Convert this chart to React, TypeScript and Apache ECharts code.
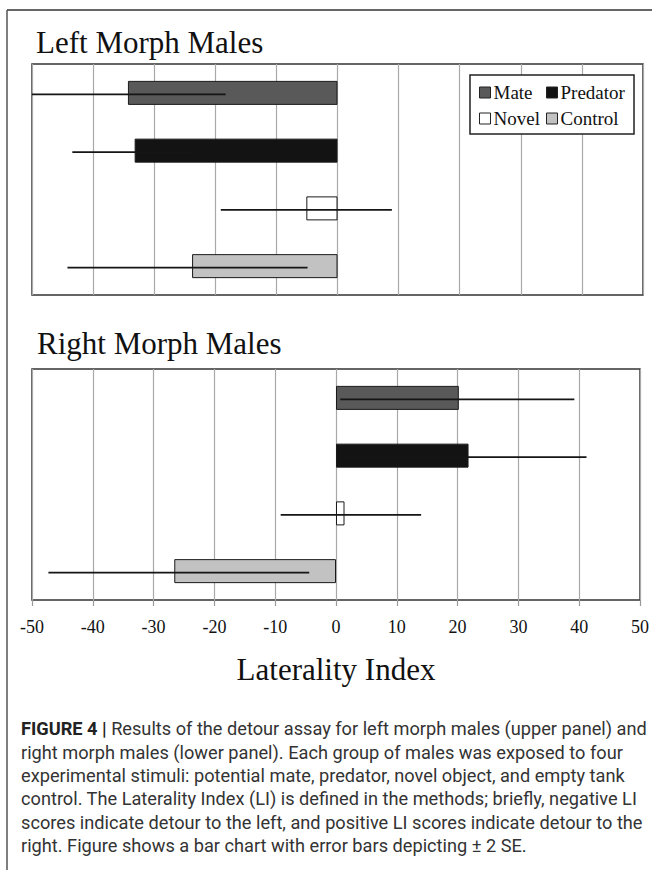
import React, { useEffect, useRef } from "react";
import * as echarts from "echarts";

const categories = ["Mate", "Predator", "Novel", "Control"];
const colors = ["#595959", "#131313", "#ffffff", "#c2c2c2"];

const leftMeans = [-34.3, -33.2, -5.1, -23.8];
const leftLower = [-50, -43.4, -19.1, -44.2];
const leftUpper = [-18.3, -23.8, 8.9, -4.9];

const rightMeans = [20.2, 21.8, 1.4, -26.6];
const rightLower = [0.7, 0.9, -9.1, -47.3];
const rightUpper = [39.2, 41.2, 14.0, -4.4];

const xMin = -50;
const xMax = 50;
const xInterval = 10;

const panelTitles = ["Left Morph Males", "Right Morph Males"];
const axisTitle = "Laterality Index";

const captionLines = [
  "{b|FIGURE 4 |} Results of the detour assay for left morph males (upper panel) and",
  "right morph males (lower panel). Each group of males was exposed to four",
  "experimental stimuli: potential mate, predator, novel object, and empty tank",
  "control. The Laterality Index (LI) is defined in the methods; briefly, negative LI",
  "scores indicate detour to the left, and positive LI scores indicate detour to the",
  "right. Figure shows a bar chart with error bars depicting \u00b1 2 SE.",
];

const SERIF = "Liberation Serif";
const SANS = "Roboto, 'Liberation Sans', Arial, sans-serif";

export default function App() {
  const ref = useRef<HTMLDivElement>(null);

  useEffect(() => {
    if (!ref.current) return;
    const chart = echarts.init(ref.current, undefined, { renderer: "svg" });

    const panels = [
      { means: leftMeans, lower: leftLower, upper: leftUpper },
      { means: rightMeans, lower: rightLower, upper: rightUpper },
    ];

    const series: any[] = [];
    panels.forEach((p, pi) => {
      categories.forEach((name, ci) => {
        series.push({
          type: "bar",
          name,
          xAxisIndex: pi,
          yAxisIndex: pi,
          barWidth: 24,
          barGap: "-100%",
          z: 2,
          itemStyle: { color: colors[ci], borderColor: "#1a1a1a", borderWidth: 1 },
          data: categories.map((_, j) => (j === ci ? p.means[j] : "-")),
        });
      });
      series.push({
        type: "custom",
        name: "err" + pi,
        xAxisIndex: pi,
        yAxisIndex: pi,
        z: 5,
        encode: { x: [0, 1], y: 2 },
        data: categories.map((_, j) => [p.lower[j], p.upper[j], j]),
        renderItem: (params: any, api: any) => {
          const a = api.coord([api.value(0), api.value(2)]);
          const b = api.coord([api.value(1), api.value(2)]);
          return {
            type: "line",
            shape: { x1: a[0], y1: a[1] + 1.5, x2: b[0], y2: b[1] + 1.5 },
            style: { stroke: "#151515", lineWidth: 1.8 },
          };
        },
      });
    });

    const yAxisBase = {
      type: "category",
      data: categories,
      inverse: true,
      axisLine: { show: false },
      axisTick: { show: false },
      axisLabel: { show: false },
      splitLine: { show: false },
    };

    const legendCommon = {
      orient: "vertical",
      top: 83,
      padding: 0,
      itemGap: 7,
      itemWidth: 11,
      itemHeight: 11,
      icon: "rect",
      z: 10,
      selectedMode: false,
      itemStyle: { borderColor: "#222", borderWidth: 1 },
      textStyle: { fontFamily: SERIF, fontSize: 19, color: "#111", padding: [0, 0, 0, -2] },
    };

    const graphics: any[] = [
      { type: "line", shape: { x1: 7, y1: 10, x2: 652, y2: 10 }, style: { stroke: "#333", lineWidth: 1.5 } },
      { type: "line", shape: { x1: 7, y1: 10, x2: 7, y2: 870 }, style: { stroke: "#555", lineWidth: 1.5 } },
      {
        type: "text",
        x: 36,
        y: 42,
        style: { text: panelTitles[0], font: `31px '${SERIF}'`, fill: "#111", textVerticalAlign: "middle" },
      },
      {
        type: "text",
        x: 37,
        y: 343,
        style: { text: panelTitles[1], font: `31px '${SERIF}'`, fill: "#111", textVerticalAlign: "middle" },
      },
      {
        type: "rect",
        z: 5,
        shape: { x: 470, y: 75, width: 164, height: 59 },
        style: { fill: "#fff", stroke: "#222", lineWidth: 1.5 },
      },
    ];
    const captionMid = [728.7, 752, 775.4, 798.7, 822, 845.4];
    captionLines.forEach((line, i) => {
      graphics.push({
        type: "text",
        x: 21,
        y: captionMid[i],
        style: {
          text: line,
          fontFamily: SANS,
          fontSize: 18.2,
          fill: "#333",
          textVerticalAlign: "middle",
          rich: {
            b: { fontFamily: SANS, fontSize: 18.2, fontWeight: "bold", fill: "#222" },
          },
        },
      });
    });

    chart.setOption({
      animation: false,
      backgroundColor: "#fff",
      textStyle: { fontFamily: SERIF },
      grid: [
        { left: 32, right: 9, top: 64, height: 231, show: true, borderColor: "#333", borderWidth: 1.5, backgroundColor: "transparent" },
        { left: 32, right: 9, top: 369, height: 231, show: true, borderColor: "#333", borderWidth: 1.5, backgroundColor: "transparent" },
      ],
      xAxis: [
        {
          type: "value",
          gridIndex: 0,
          min: xMin,
          max: xMax,
          interval: xInterval,
          axisLine: { show: false },
          axisTick: { show: false },
          axisLabel: { show: false },
          splitLine: { show: true, lineStyle: { color: "#a8a8a8", width: 1.2 } },
        },
        {
          type: "value",
          gridIndex: 1,
          min: xMin,
          max: xMax,
          interval: xInterval,
          axisLine: { show: false },
          splitLine: { show: true, lineStyle: { color: "#a8a8a8", width: 1.2 } },
          axisTick: { show: true, inside: false, length: 6, lineStyle: { color: "#999", width: 1.2 } },
          axisLabel: {
            show: true,
            margin: 18,
            fontFamily: SERIF,
            fontSize: 18,
            color: "#111",
          },
          name: axisTitle,
          nameLocation: "middle",
          nameGap: 54,
          nameTextStyle: { fontFamily: SERIF, fontSize: 31, color: "#111" },
        },
      ],
      yAxis: [
        { ...yAxisBase, gridIndex: 0 },
        { ...yAxisBase, gridIndex: 1 },
      ],
      legend: [
        { ...legendCommon, left: 479, data: ["Mate", "Novel"] },
        { ...legendCommon, left: 546, data: ["Predator", "Control"] },
      ],
      graphic: graphics,
      series,
    });

    return () => chart.dispose();
  }, []);

  return (
    <div
      ref={ref}
      style={{ position: "fixed", left: 0, top: 0, width: 652, height: 870, background: "#fff" }}
    />
  );
}
